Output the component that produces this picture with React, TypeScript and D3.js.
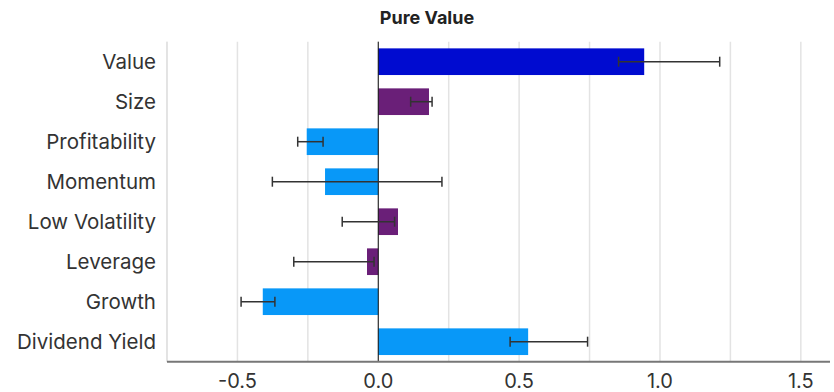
import React from "react";
import * as d3 from "d3";

const categories = ["Value", "Size", "Profitability", "Momentum", "Low Volatility", "Leverage", "Growth", "Dividend Yield"];
const values = [0.944, 0.18, -0.254, -0.189, 0.07, -0.04, -0.41, 0.532];
const errLow = [0.853, 0.115, -0.286, -0.376, -0.128, -0.3, -0.487, 0.468];
const errHigh = [1.212, 0.191, -0.196, 0.226, 0.058, -0.015, -0.367, 0.743];
const barColors = ["#000BD0", "#6A1F78", "#0898F8", "#0898F8", "#6A1F78", "#6A1F78", "#0898F8", "#0898F8"];
const tickValues = [-0.5, 0, 0.5, 1.0, 1.5];
const gridValues = [-0.75, -0.5, -0.25, 0, 0.25, 0.5, 0.75, 1.0, 1.25, 1.5];
const title = "Pure Value";

export default function App() {
  const W = 834, H = 392;
  const left = 167, right = 829, top = 41.7, bottom = 361.7;
  const x = d3.scaleLinear().domain([-0.75, 1.6]).range([left, right]);
  const y = d3.scaleBand<string>().domain(categories).range([top, bottom]).paddingInner(1 / 3).paddingOuter(1 / 6);
  const font = "Inter, Roboto, 'Noto Sans', sans-serif";
  return (
    <svg width={W} height={H} style={{ position: "absolute", left: 0, top: 0 }} fontFamily={font}>
      <rect width={W} height={H} fill="#fff" />
      <text x={427} y={24} textAnchor="middle" fontWeight="bold" fontSize={18} fill="#222">{title}</text>
      {gridValues.map((g) => (
        <line key={g} x1={x(g)} x2={x(g)} y1={top} y2={bottom} stroke="#e3e3e3" strokeWidth={1.5} />
      ))}
      {categories.map((c, i) => {
        const v = values[i];
        const y0 = y(c)!;
        const bh = y.bandwidth();
        const cy = y0 + bh / 2;
        return (
          <g key={c}>
            <rect x={Math.min(x(0), x(v))} y={y0} width={Math.abs(x(v) - x(0))} height={bh} fill={barColors[i]} />
            <text x={156} y={cy} dy="0.35em" textAnchor="end" fontSize={20.5} fill="#333">{c}</text>
          </g>
        );
      })}
      <line x1={x(0)} x2={x(0)} y1={top} y2={bottom} stroke="#111" strokeWidth={1} />
      {categories.map((c, i) => {
        const cy = y(c)! + y.bandwidth() / 2;
        const a = x(errLow[i]), b = x(errHigh[i]);
        return (
          <g key={"e" + c} stroke="#333" strokeWidth={1.5}>
            <line x1={a} x2={b} y1={cy} y2={cy} />
            <line x1={a} x2={a} y1={cy - 5} y2={cy + 5} />
            <line x1={b} x2={b} y1={cy - 5} y2={cy + 5} />
          </g>
        );
      })}
      <line x1={left} x2={left} y1={top} y2={bottom} stroke="#ddd" strokeWidth={1} />
      <line x1={left} x2={right + 1} y1={bottom} y2={bottom} stroke="#777" strokeWidth={2} />
      {tickValues.map((t) => (
        <text key={t} x={x(t)} y={388} textAnchor="middle" fontSize={20} fill="#333">{t.toFixed(1)}</text>
      ))}
    </svg>
  );
}
